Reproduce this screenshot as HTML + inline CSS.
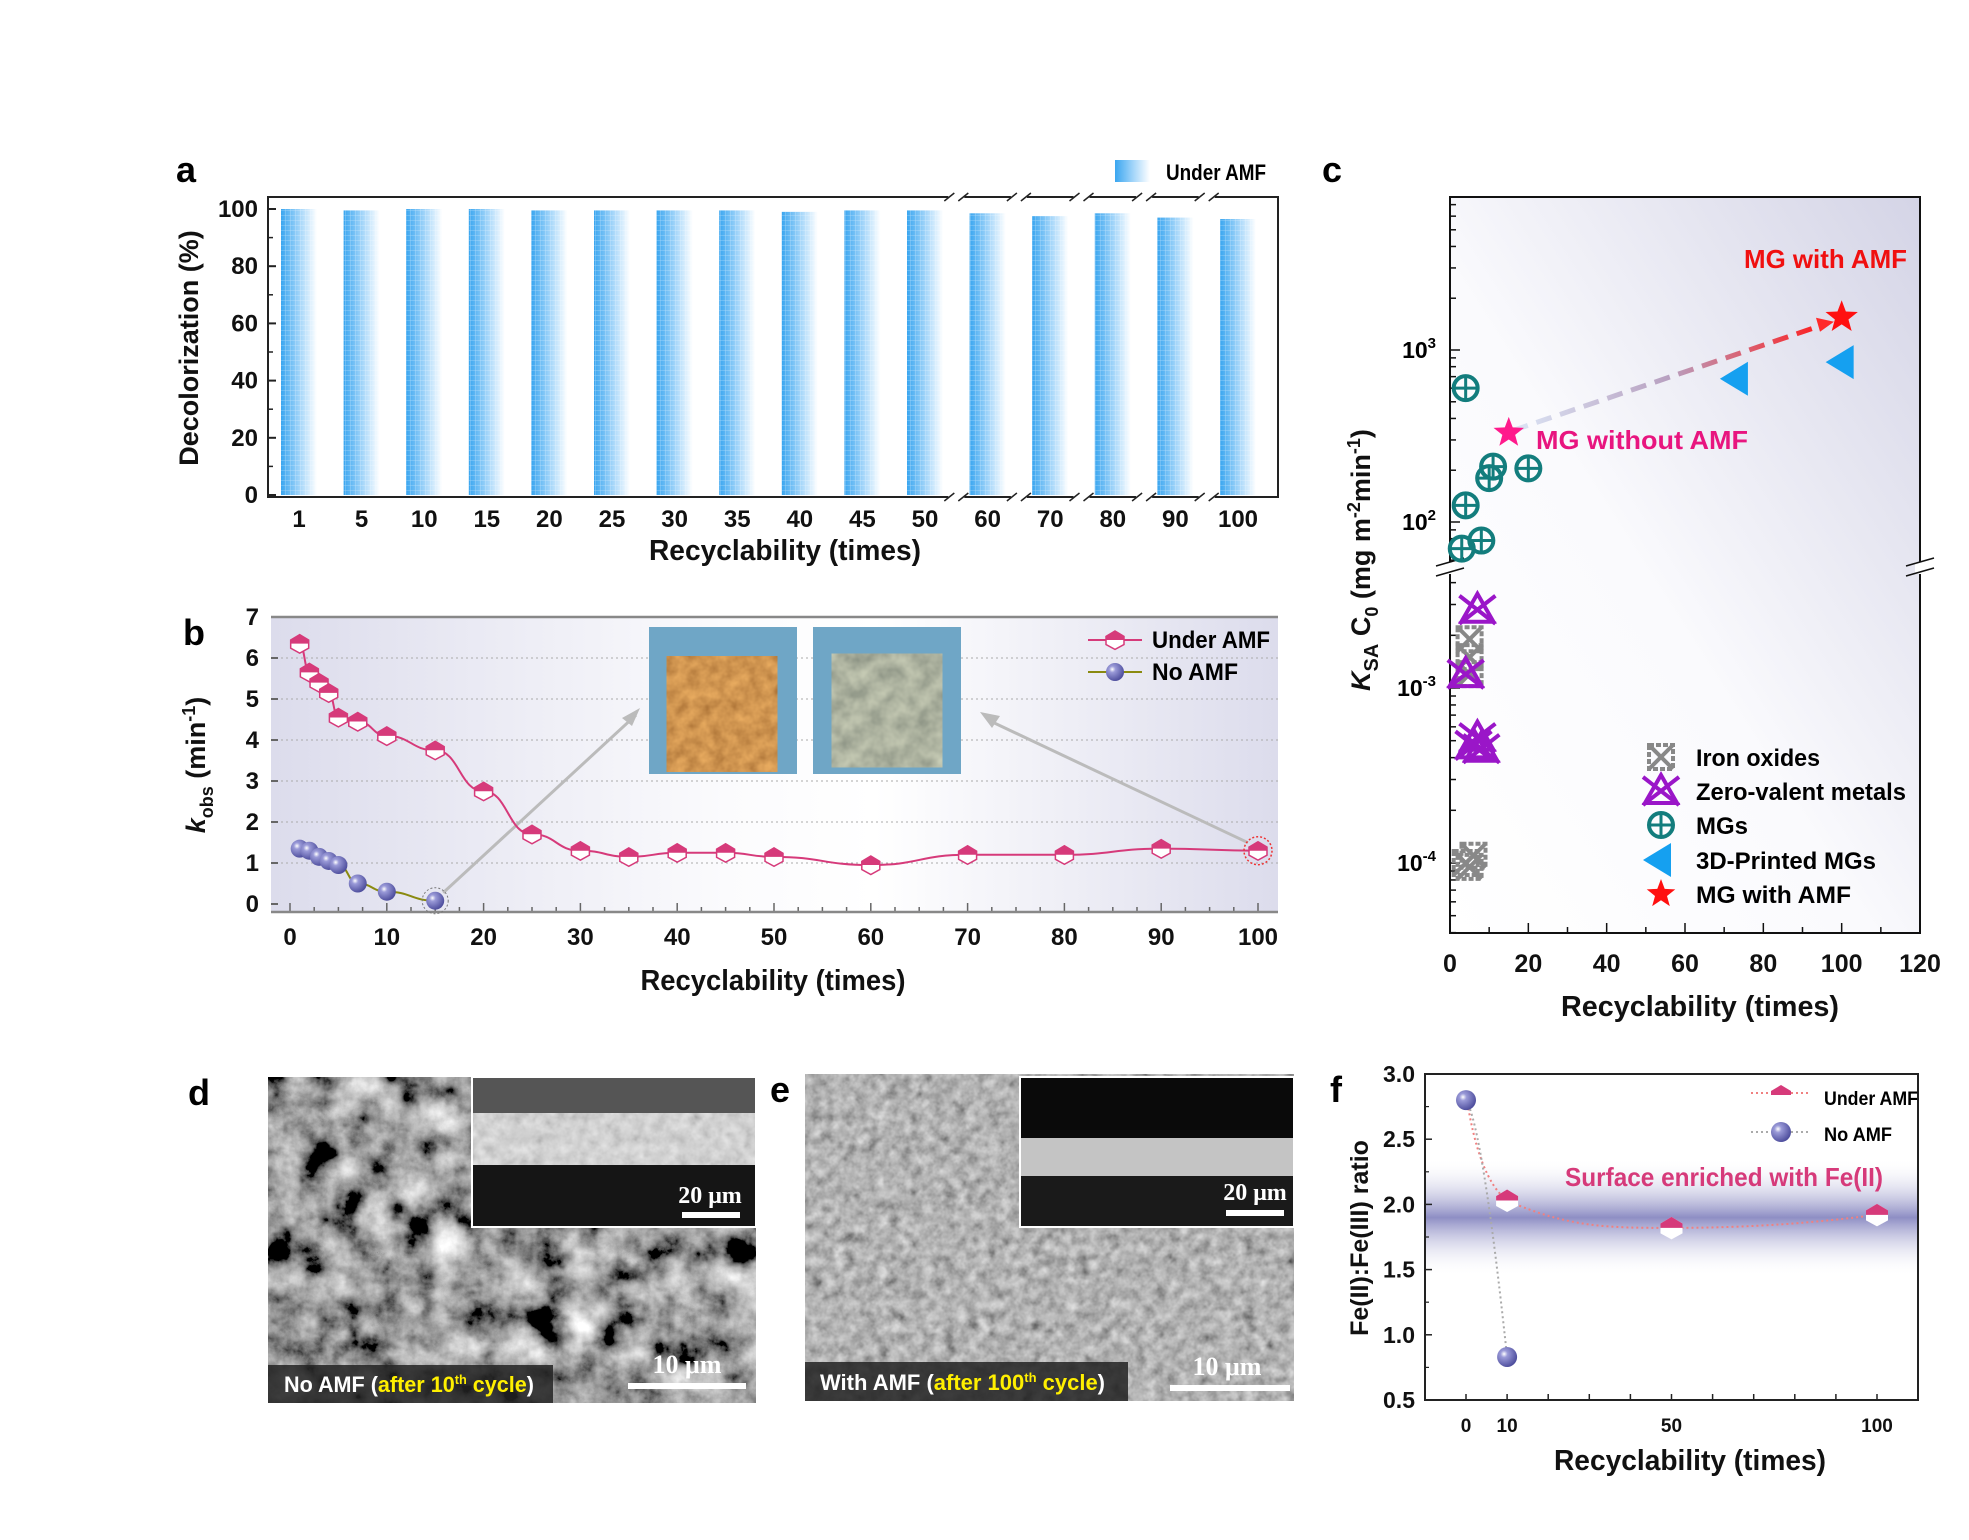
<!DOCTYPE html>
<html><head><meta charset="utf-8">
<style>
html,body{margin:0;padding:0;background:#fff;}
svg{display:block;font-family:"Liberation Sans Narrow","Liberation Sans",sans-serif;font-weight:bold;}
.tk{font-size:24px;fill:#111;}
.ttl{font-size:29px;fill:#111;}
.pl{font-size:36px;fill:#000;font-family:"Liberation Sans",sans-serif;font-weight:bold;}
</style></head>
<body>
<svg id="fig" width="1969" height="1540" viewBox="0 0 1969 1540" xmlns="http://www.w3.org/2000/svg">
<defs>
<linearGradient id="barG" x1="0" x2="1" y1="0" y2="0"><stop offset="0" stop-color="#3aa6f0"/><stop offset="0.55" stop-color="#a9d8fa"/><stop offset="1" stop-color="#ffffff"/></linearGradient>
<pattern id="barGrid" width="5" height="5" patternUnits="userSpaceOnUse"><path d="M0 0H5M0 0V5" stroke="#fff" stroke-width="0.8" opacity="0.5"/></pattern>
<linearGradient id="bgB" x1="0" x2="1"><stop offset="0" stop-color="#dcdcec"/><stop offset="0.45" stop-color="#fbfbfd"/><stop offset="0.6" stop-color="#ffffff"/><stop offset="1" stop-color="#dcdcec"/></linearGradient>
<linearGradient id="bgC" x1="0" x2="1" y1="1" y2="0"><stop offset="0" stop-color="#ffffff"/><stop offset="0.45" stop-color="#fafafd"/><stop offset="1" stop-color="#d4d4e6"/></linearGradient>
<linearGradient id="bandF" x1="0" x2="0" y1="0" y2="1"><stop offset="0" stop-color="#fff" stop-opacity="0"/><stop offset="0.5" stop-color="#8e8ec4"/><stop offset="1" stop-color="#fff" stop-opacity="0"/></linearGradient>
<linearGradient id="arrG" x1="0" x2="1"><stop offset="0" stop-color="#dce6f6"/><stop offset="0.5" stop-color="#b8a0c0"/><stop offset="1" stop-color="#ff1a1a"/></linearGradient>
<radialGradient id="ball" cx="0.35" cy="0.35" r="0.7"><stop offset="0" stop-color="#ffffff"/><stop offset="0.25" stop-color="#9a9ad8"/><stop offset="1" stop-color="#4a4a9a"/></radialGradient>
<filter id="semD" x="0" y="0" width="1" height="1"><feTurbulence type="fractalNoise" baseFrequency="0.03" numOctaves="5" seed="3"/><feColorMatrix type="matrix" values="0.33 0.33 0.33 0 0  0.33 0.33 0.33 0 0  0.33 0.33 0.33 0 0  0 0 0 0 1"/><feComponentTransfer><feFuncR type="linear" slope="2.6" intercept="-0.95"/><feFuncG type="linear" slope="2.6" intercept="-0.95"/><feFuncB type="linear" slope="2.6" intercept="-0.95"/></feComponentTransfer></filter>
<filter id="semE" x="0" y="0" width="1" height="1"><feTurbulence type="fractalNoise" baseFrequency="0.09" numOctaves="3" seed="7"/><feColorMatrix type="matrix" values="0.33 0.33 0.33 0 0  0.33 0.33 0.33 0 0  0.33 0.33 0.33 0 0  0 0 0 0 1"/><feComponentTransfer><feFuncR type="linear" slope="1.2" intercept="-0.15"/><feFuncG type="linear" slope="1.2" intercept="-0.15"/><feFuncB type="linear" slope="1.2" intercept="-0.15"/></feComponentTransfer></filter>
<filter id="rust"><feTurbulence type="fractalNoise" baseFrequency="0.08" numOctaves="3" seed="2"/><feColorMatrix type="matrix" values="0.5 0 0 0 0.38  0.3 0 0 0 0.15  0.1 0 0 0 0.03  0 0 0 0 1"/></filter>
<filter id="steel"><feTurbulence type="fractalNoise" baseFrequency="0.06" numOctaves="3" seed="5"/><feColorMatrix type="matrix" values="0.4 0 0 0 0.22  0.4 0 0 0 0.25  0.3 0 0 0 0.2  0 0 0 0 1"/></filter>
</defs>

<!-- Panel a -->
<text class="pl" x="176" y="182">a</text>
<g>
<rect x="1115" y="160" width="35" height="22" fill="url(#barG)"/>
<text x="1166" y="180" style="font-size:22px" textLength="100" lengthAdjust="spacingAndGlyphs">Under AMF</text>
</g>
<g id="pa"></g>
<text class="ttl" x="785" y="560" text-anchor="middle" textLength="272" lengthAdjust="spacingAndGlyphs">Recyclability (times)</text>
<text class="ttl" transform="translate(198,348) rotate(-90)" text-anchor="middle" style="font-family:'Liberation Sans',sans-serif;font-size:27px">Decolorization (%)</text>

<!-- Panel b -->
<text class="pl" x="183" y="645">b</text>
<g id="pb"></g>
<text class="ttl" x="773" y="990" text-anchor="middle" textLength="265" lengthAdjust="spacingAndGlyphs">Recyclability (times)</text>
<text class="ttl" transform="translate(205,765) rotate(-90)" text-anchor="middle" style="font-family:'Liberation Sans',sans-serif;font-size:27px"><tspan font-style="italic">k</tspan><tspan font-size="18" dy="8">obs</tspan><tspan dy="-8"> (min</tspan><tspan font-size="18" dy="-10">-1</tspan><tspan dy="10">)</tspan></text>

<!-- Panel c -->
<text class="pl" x="1322" y="182">c</text>
<g id="pc"></g>
<text class="ttl" x="1700" y="1016" text-anchor="middle" textLength="278" lengthAdjust="spacingAndGlyphs">Recyclability (times)</text>
<text class="ttl" transform="translate(1370,560) rotate(-90)" text-anchor="middle" style="font-family:'Liberation Sans',sans-serif;font-size:27px"><tspan font-style="italic">K</tspan><tspan font-size="20" dy="8">SA</tspan><tspan dy="-8"> C</tspan><tspan font-size="18" dy="8">0</tspan><tspan dy="-8"> (mg m</tspan><tspan font-size="18" dy="-10">-2</tspan><tspan dy="10">min</tspan><tspan font-size="18" dy="-10">-1</tspan><tspan dy="10">)</tspan></text>

<!-- Panel d -->
<text class="pl" x="188" y="1105">d</text>
<g>
<rect x="268" y="1077" width="488" height="326" fill="#666" filter="url(#semD)"/>
<rect x="472" y="1077" width="284" height="150" fill="#151515" stroke="#fff" stroke-width="2"/>
<rect x="473" y="1078" width="282" height="35" fill="#555"/>
<rect x="473" y="1113" width="282" height="52" fill="#ececec"/>
<rect x="473" y="1113" width="282" height="52" fill="#aaa" filter="url(#semE)" opacity="0.45"/>
<text x="710" y="1203" text-anchor="middle" style="font-family:'Liberation Serif',serif;font-size:24px;fill:#fff">20 μm</text>
<rect x="682" y="1212" width="58" height="6" fill="#fff"/>
<rect x="268" y="1365" width="285" height="38" fill="#222" opacity="0.85"/>
<text x="284" y="1392" style="font-size:22px;fill:#fff" textLength="250" lengthAdjust="spacingAndGlyphs">No AMF (<tspan fill="#ffef00">after 10<tspan font-size="13" dy="-8">th</tspan><tspan dy="8"> cycle</tspan></tspan>)</text>
<text x="687" y="1373" text-anchor="middle" style="font-family:'Liberation Serif',serif;font-size:26px;fill:#fff">10 μm</text>
<rect x="628" y="1383" width="118" height="6" fill="#fff"/>
</g>

<!-- Panel e -->
<text class="pl" x="770" y="1102">e</text>
<g>
<rect x="805" y="1074" width="489" height="327" fill="#888" filter="url(#semE)"/>
<rect x="1020" y="1077" width="274" height="150" fill="#1a1a1a" stroke="#fff" stroke-width="2"/>
<rect x="1021" y="1078" width="272" height="60" fill="#0a0a0a"/>
<rect x="1021" y="1138" width="272" height="38" fill="#c4c4c4"/>
<text x="1255" y="1200" text-anchor="middle" style="font-family:'Liberation Serif',serif;font-size:24px;fill:#fff">20 μm</text>
<rect x="1226" y="1210" width="58" height="6" fill="#fff"/>
<rect x="805" y="1362" width="323" height="39" fill="#222" opacity="0.85"/>
<text x="820" y="1390" style="font-size:22px;fill:#fff" textLength="285" lengthAdjust="spacingAndGlyphs">With AMF (<tspan fill="#ffef00">after 100<tspan font-size="13" dy="-8">th</tspan><tspan dy="8"> cycle</tspan></tspan>)</text>
<text x="1227" y="1375" text-anchor="middle" style="font-family:'Liberation Serif',serif;font-size:26px;fill:#fff">10 μm</text>
<rect x="1170" y="1385" width="120" height="6" fill="#fff"/>
</g>

<!-- Panel f -->
<text class="pl" x="1330" y="1102">f</text>
<g id="pf"></g>
<text class="ttl" x="1690" y="1470" text-anchor="middle" textLength="272" lengthAdjust="spacingAndGlyphs">Recyclability (times)</text>
<text class="ttl" transform="translate(1368,1238) rotate(-90)" text-anchor="middle" style="font-family:'Liberation Sans',sans-serif;font-size:25px">Fe(II):Fe(III) ratio</text>
</svg>

<script>
// ---------- Panel a data ----------
const aCats = ["1","5","10","15","20","25","30","35","40","45","50","60","70","80","90","100"];
const aVals = [100,99.5,100,100,99.5,99.5,99.5,99.5,99,99.5,99.5,98.5,97.5,98.5,97,96.5];
const aTicks = [0,20,40,60,80,100];
// ---------- Panel b data ----------
const bUnderX = [1,2,3,4,5,7,10,15,20,25,30,35,40,45,50,60,70,80,90,100];
const bUnderY = [6.35,5.65,5.4,5.15,4.55,4.45,4.1,3.75,2.75,1.7,1.3,1.15,1.25,1.25,1.15,0.95,1.2,1.2,1.35,1.3];
const bNoX = [1,2,3,4,5,7,10,15];
const bNoY = [1.35,1.3,1.15,1.05,0.95,0.5,0.3,0.08];
const bYTicks = [0,1,2,3,4,5,6,7];
const bXTicks = [0,10,20,30,40,50,60,70,80,90,100];
// ---------- Panel c data ----------
const cXTicks = [0,20,40,60,80,100,120];
const cMGsX = [4,4,3,8,10,11,20];
const cMGsY = [600,125,70,78,180,210,205];
const cIronX = [5,5,5,4,6,5];
const cIronY = [0.0019,0.0015,0.0012,0.0001,0.00011,0.000095];
const cZeroX = [7,4,7,8,6];
const cZeroY = [0.0028,0.0012,0.00052,0.00045,0.00047];
const c3DX = [73,100];
const c3DY = [680,850];
const cNoAmfX = [15];
const cNoAmfY = [330];
const cAmfX = [100];
const cAmfY = [1550];
// ---------- Panel f data ----------
const fUnderX = [10,50,100];
const fUnderY = [2.03,1.82,1.92];
const fNoX = [0,10];
const fNoY = [2.8,0.83];
const fYTicks = [0.5,1.0,1.5,2.0,2.5,3.0];
const fXTicks = [0,10,50,100];

const NS="http://www.w3.org/2000/svg";
function mk(parent,tag,attrs,txt){const e=document.createElementNS(NS,tag);for(const k in attrs)e.setAttribute(k,attrs[k]);if(txt!==undefined)e.textContent=txt;parent.appendChild(e);return e;}

// ===== Panel a =====
(function(){
const g=document.getElementById('pa');
const L=268,R=1278,T=197,B=497;
const y=v=>495-(v/100)*286;
const x=i=>299+i*(1238-299)/15;
const frame=mk(g,'rect',{x:L,y:T,width:R-L,height:B-T,fill:'#fff',stroke:'#222','stroke-width':2});


aVals.forEach((v,i)=>{
 const r=mk(g,'rect',{x:x(i)-18,y:y(v),width:36,height:495-y(v),fill:'url(#barG)'});
 
 
 mk(g,'rect',{x:x(i)-18,y:y(v),width:36,height:495-y(v),fill:'url(#barGrid)'});
 const t=mk(g,'text',{x:x(i),y:527,'text-anchor':'middle',class:'tk'},aCats[i]);
 
 
});
aTicks.forEach(v=>{
 mk(g,'line',{x1:L,x2:L+8,y1:y(v),y2:y(v),stroke:'#222','stroke-width':2});
 if(v<100) mk(g,'line',{x1:L,x2:L+5,y1:y(v+10),y2:y(v+10),stroke:'#222','stroke-width':1.5});
 const t=mk(g,'text',{x:L-10,y:y(v)+8,'text-anchor':'end',class:'tk'},v);
 
 
});
for(let i=10;i<15;i++){const bx=(x(i)+x(i+1))/2;
 [T,B].forEach(yy=>{mk(g,'rect',{x:bx-8,y:yy-4,width:16,height:8,fill:'#fff'});
 mk(g,'line',{x1:bx-12,x2:bx-2,y1:yy+4,y2:yy-4,stroke:'#222','stroke-width':1.5});
 mk(g,'line',{x1:bx+2,x2:bx+12,y1:yy+4,y2:yy-4,stroke:'#222','stroke-width':1.5});});}
})();

// ===== Panel b =====
(function(){
const g=document.getElementById('pb');
const L=271,R=1278,T=617,B=912;
const x=v=>290+v*(1258-290)/100;
const y=v=>904-v*(904-617)/7;
const bg=mk(g,'rect',{x:L,y:T,width:R-L,height:B-T,fill:'url(#bgB)'});


bYTicks.forEach(v=>{
 if(v>0&&v<7) mk(g,'line',{x1:L,x2:R,y1:y(v),y2:y(v),stroke:'#aaa','stroke-dasharray':'2 3','stroke-width':1});
 mk(g,'line',{x1:L,x2:L+7,y1:y(v),y2:y(v),stroke:'#666','stroke-width':2});
 const t=mk(g,'text',{x:L-12,y:y(v)+8,'text-anchor':'end',class:'tk'},v);
 
 
});
for(let v=0;v<=100;v+=2.5){mk(g,'line',{x1:x(v),x2:x(v),y1:B,y2:B-(v%10==0?9:5),stroke:'#666','stroke-width':1.5});}
bXTicks.forEach(v=>{const t=mk(g,'text',{x:x(v),y:945,'text-anchor':'middle',class:'tk'},v);
 
 });
mk(g,'line',{x1:L,x2:R,y1:T,y2:T,stroke:'#888','stroke-width':2.5});
mk(g,'line',{x1:L,x2:R,y1:B,y2:B,stroke:'#888','stroke-width':2.5});
const i1=mk(g,'rect',{x:649,y:627,width:148,height:147,fill:'#6fa6c6'});


mk(g,'rect',{x:676,y:666,width:92,height:96,fill:'#a05a20',filter:'url(#rust)'});
const i2=mk(g,'rect',{x:813,y:627,width:148,height:147,fill:'#6fa6c6'});


mk(g,'rect',{x:841,y:663,width:92,height:95,fill:'#6d725f',filter:'url(#steel)'});
mk(g,'line',{x1:x(15)+8,y1:y(0.08)-8,x2:636,y2:715,stroke:'#bbb','stroke-width':3});
mk(g,'path',{d:'M640 708 L622 718 L632 726 Z',fill:'#bbb'});
mk(g,'line',{x1:x(100)-10,y1:y(1.3)-8,x2:988,y2:720,stroke:'#bbb','stroke-width':3});
mk(g,'path',{d:'M980 712 L1000 716 L992 728 Z',fill:'#bbb'});
function smooth(xs,ys){let d='M'+x(xs[0])+' '+y(ys[0]);for(let i=1;i<xs.length;i++){const x0=x(xs[i-1]),y0=y(ys[i-1]),x1=x(xs[i]),y1=y(ys[i]);const mx=(x0+x1)/2;d+=' C'+mx+' '+y0+' '+mx+' '+y1+' '+x1+' '+y1;}return d;}
const lu=mk(g,'path',{d:smooth(bUnderX,bUnderY),fill:'none',stroke:'#d63a7a','stroke-width':2});


const ln=mk(g,'path',{d:smooth(bNoX,bNoY),fill:'none',stroke:'#8a8a10','stroke-width':2});


function hexMark(px,py,s){mk(g,'path',{d:`M${px-s} ${py-s*0.4} L${px} ${py-s} L${px+s} ${py-s*0.4} L${px+s} ${py+s*0.5} L${px} ${py+s*1.05} L${px-s} ${py+s*0.5}Z`,fill:'#fff',stroke:'#d63a7a','stroke-width':1.5});
 return mk(g,'path',{d:`M${px-s} ${py} L${px-s} ${py-s*0.4} L${px} ${py-s} L${px+s} ${py-s*0.4} L${px+s} ${py}Z`,fill:'#d63a7a'});}
bUnderX.forEach((v,i)=>{const m=hexMark(x(v),y(bUnderY[i]),9);
 
 });
bNoX.forEach((v,i)=>{const m=mk(g,'circle',{cx:x(v),cy:y(bNoY[i]),r:9,fill:'url(#ball)'});
 
 });
mk(g,'circle',{cx:x(15),cy:y(0.08),r:13,fill:'none',stroke:'#777','stroke-dasharray':'2 2'});
mk(g,'circle',{cx:x(100),cy:y(1.3),r:14,fill:'none',stroke:'#e33','stroke-dasharray':'2 2','stroke-width':1.5});
mk(g,'line',{x1:1088,x2:1142,y1:640,y2:640,stroke:'#d63a7a','stroke-width':2});
hexMark(1115,640,9);
const lt1=mk(g,'text',{x:1152,y:648,style:'font-size:24px',textLength:118,lengthAdjust:'spacingAndGlyphs'},'Under AMF');


mk(g,'line',{x1:1088,x2:1142,y1:672,y2:672,stroke:'#8a8a10','stroke-width':2});
mk(g,'circle',{cx:1115,cy:672,r:9,fill:'url(#ball)'});
const lt2=mk(g,'text',{x:1152,y:680,style:'font-size:24px',textLength:86,lengthAdjust:'spacingAndGlyphs'},'No AMF');


})();

// ===== Panel c =====
(function(){
const g=document.getElementById('pc');
const L=1450,R=1920,T=197,B=933,BR=568;
const x=v=>L+v*(R-L)/120;
const yu=v=>350-(Math.log10(v)-3)*172;
const yl=v=>688-(Math.log10(v)+3)*175;
const bg=mk(g,'rect',{x:L,y:T,width:R-L,height:B-T,fill:'url(#bgC)',stroke:'#111','stroke-width':2});


for(let e=1;e<=3;e++)for(let m=1;m<10;m++){const v=m*Math.pow(10,e);const yy=yu(v);if(yy>T&&yy<BR)mk(g,'line',{x1:L,x2:L+(m==1?10:6),y1:yy,y2:yy,stroke:'#111','stroke-width':1.5});}
for(let e=-5;e<=-3;e++)for(let m=1;m<10;m++){const v=m*Math.pow(10,e);const yy=yl(v);if(yy>BR&&yy<B)mk(g,'line',{x1:L,x2:L+(m==1?10:6),y1:yy,y2:yy,stroke:'#111','stroke-width':1.5});}
[[yu(1000),'3'],[yu(100),'2'],[yl(0.001),'-3'],[yl(0.0001),'-4']].forEach(a=>{
 const t=mk(g,'text',{x:L-14,y:a[0]+8,'text-anchor':'end',style:'font-family:"Liberation Sans",sans-serif;font-size:23px'});
 
 
 mk(t,'tspan',{},'10');mk(t,'tspan',{dy:-10,'font-size':15},a[1]);});
[L,R].forEach(bx=>{mk(g,'rect',{x:bx-5,y:BR-6,width:10,height:12,fill:'#fff'});
 mk(g,'line',{x1:bx-14,x2:bx+14,y1:BR-2,y2:BR-10,stroke:'#111','stroke-width':1.5});
 mk(g,'line',{x1:bx-14,x2:bx+14,y1:BR+8,y2:BR,stroke:'#111','stroke-width':1.5});});
for(let v=0;v<=120;v+=10){mk(g,'line',{x1:x(v),x2:x(v),y1:B,y2:B-(v%20==0?10:6),stroke:'#111','stroke-width':1.5});}
cXTicks.forEach(v=>{const t=mk(g,'text',{x:x(v),y:972,'text-anchor':'middle',class:'tk',style:'font-size:25px'},v);
 
 });
mk(g,'line',{x1:x(16),y1:yu(340),x2:x(96),y2:yu(1420),stroke:'url(#arrG)','stroke-width':5,'stroke-dasharray':'16 9'});
mk(g,'path',{d:`M${x(96)+8} ${yu(1420)-2} l-18 -4 l4 14 Z`,fill:'#ff2a2a'});
function circ(px,py){const gg=mk(g,'g',{});mk(gg,'circle',{cx:px,cy:py,r:12,fill:'none',stroke:'#137d7d','stroke-width':4});mk(gg,'path',{d:`M${px-12} ${py}H${px+12}M${px} ${py-12}V${py+12}`,stroke:'#137d7d','stroke-width':3});return gg;}
function boxX(px,py){const gg=mk(g,'g',{});mk(gg,'rect',{x:px-12,y:py-12,width:24,height:24,fill:'none',stroke:'#888','stroke-width':4,'stroke-dasharray':'5 2'});mk(gg,'path',{d:`M${px-12} ${py-12}L${px+12} ${py+12}M${px+12} ${py-12}L${px-12} ${py+12}`,stroke:'#888','stroke-width':4});return gg;}
function zx(px,py){const gg=mk(g,'g',{});mk(gg,'path',{d:`M${px-18} ${py-14}L${px+18} ${py+14}M${px+18} ${py-14}L${px-18} ${py+14}M${px-16} ${py+12}L${px} ${py-16}L${px+16} ${py+12}Z`,fill:'none',stroke:'#9a16c8','stroke-width':4});return gg;}
function tri(px,py){return mk(g,'path',{d:`M${px-16} ${py}L${px+12} ${py-17}L${px+12} ${py+17}Z`,fill:'#15a0f0'});}
function star(px,py,r,col){let d='';for(let i=0;i<10;i++){const a=-Math.PI/2+i*Math.PI/5;const rr=i%2?r*0.42:r;d+=(i?'L':'M')+(px+rr*Math.cos(a))+' '+(py+rr*Math.sin(a));}return mk(g,'path',{d:d+'Z',fill:col});}
cIronX.forEach((v,i)=>{const m=boxX(x(v),yl(cIronY[i]));
 
 });
cZeroX.forEach((v,i)=>{const m=zx(x(v),yl(cZeroY[i]));
 
 });
cMGsX.forEach((v,i)=>{const yy=yu(cMGsY[i]);if(yy>BR-4)return;const m=circ(x(v),yy);
 
 });
c3DX.forEach((v,i)=>{const m=tri(x(v),yu(c3DY[i]));
 
 });
cNoAmfX.forEach((v,i)=>{const m=star(x(v),yu(cNoAmfY[i]),16,'#ff1a8c');
 
 });
cAmfX.forEach((v,i)=>{const m=star(x(v),yu(cAmfY[i]),17,'#ff1010');
 
 });
const a1=mk(g,'text',{x:1907,y:268,'text-anchor':'end',style:'font-size:26px;fill:#f01010',textLength:163,lengthAdjust:'spacingAndGlyphs'},'MG with AMF');


const a2=mk(g,'text',{x:1536,y:449,style:'font-size:26px;fill:#e8157f',textLength:212,lengthAdjust:'spacingAndGlyphs'},'MG without AMF');


const ly=[757,791,825,860,894];
const labs=['Iron oxides','Zero-valent metals','MGs','3D-Printed MGs','MG with AMF'];
const lw=[124,210,52,180,155];
boxX(1661,ly[0]);zx(1661,ly[1]);circ(1661,ly[2]);tri(1659,ly[3]);star(1661,ly[4],15,'#ff1010');
labs.forEach((s,i)=>{const t=mk(g,'text',{x:1696,y:ly[i]+9,style:'font-size:24px',textLength:lw[i],lengthAdjust:'spacingAndGlyphs'},s);
 
 });
})();

// ===== Panel f =====
(function(){
const g=document.getElementById('pf');
const L=1425,R=1918,T=1074,B=1400;
const x=v=>1466+v*(1877-1466)/100;
const y=v=>1400-(v-0.5)*(1400-1074)/2.5;
const bg=mk(g,'rect',{x:L,y:T,width:R-L,height:B-T,fill:'#fff',stroke:'#222','stroke-width':2});


const band=mk(g,'rect',{x:L+1,y:y(2.35),width:R-L-2,height:y(1.45)-y(2.35),fill:'url(#bandF)'});


fYTicks.forEach(v=>{mk(g,'line',{x1:L,x2:L+7,y1:y(v),y2:y(v),stroke:'#222','stroke-width':1.5});
 if(v<3)mk(g,'line',{x1:L,x2:L+4,y1:y(v+0.25),y2:y(v+0.25),stroke:'#222','stroke-width':1.2});
 const t=mk(g,'text',{x:L-10,y:y(v)+8,'text-anchor':'end',class:'tk',style:'font-size:23px'},v.toFixed(1));
 
 });
for(let v=0;v<=110;v+=10){mk(g,'line',{x1:x(v),x2:x(v),y1:B,y2:B-6,stroke:'#222','stroke-width':1.5});}
fXTicks.forEach(v=>{const t=mk(g,'text',{x:x(v),y:1432,'text-anchor':'middle',class:'tk',style:'font-size:19px'},v);
 
 });
const at=mk(g,'text',{x:1724,y:1186,'text-anchor':'middle',style:'font-size:26px;fill:#d63a7a',textLength:318,lengthAdjust:'spacingAndGlyphs'},'Surface enriched with Fe(II)');


const pu=mk(g,'path',{d:`M${x(0)} ${y(2.85)} Q${x(3)} ${y(2.2)} ${x(fUnderX[0])} ${y(fUnderY[0])} C${x(25)} ${y(1.82)} ${x(35)} ${y(fUnderY[1])} ${x(fUnderX[1])} ${y(fUnderY[1])} C${x(70)} ${y(fUnderY[1])} ${x(85)} ${y(1.86)} ${x(fUnderX[2])} ${y(fUnderY[2])}`,fill:'none',stroke:'#f08080','stroke-width':2,'stroke-dasharray':'2 3'});


const pn=mk(g,'path',{d:`M${x(fNoX[0])} ${y(fNoY[0])} Q${x(4)} ${y(2.6)} ${x(fNoX[1])} ${y(fNoY[1])}`,fill:'none',stroke:'#aaa','stroke-width':2,'stroke-dasharray':'2 3'});


function hexMark(px,py,s){mk(g,'path',{d:`M${px-s} ${py-s*0.4} L${px} ${py-s} L${px+s} ${py-s*0.4} L${px+s} ${py+s*0.5} L${px} ${py+s*1.05} L${px-s} ${py+s*0.5}Z`,fill:'#fff'});
 return mk(g,'path',{d:`M${px-s} ${py} L${px-s} ${py-s*0.4} L${px} ${py-s} L${px+s} ${py-s*0.4} L${px+s} ${py}Z`,fill:'#d63a7a'});}
fUnderX.forEach((v,i)=>{const m=hexMark(x(v),y(fUnderY[i]),11);
 
 });
fNoX.forEach((v,i)=>{const m=mk(g,'circle',{cx:x(v),cy:y(fNoY[i]),r:10,fill:'url(#ball)'});
 
 });
mk(g,'line',{x1:1751,x2:1810,y1:1093,y2:1093,stroke:'#f08080','stroke-width':2,'stroke-dasharray':'2 3'});
hexMark(1781,1095,10);
const l1=mk(g,'text',{x:1824,y:1105,style:'font-size:19px',textLength:94,lengthAdjust:'spacingAndGlyphs'},'Under AMF');


mk(g,'line',{x1:1751,x2:1810,y1:1132,y2:1132,stroke:'#aaa','stroke-width':2,'stroke-dasharray':'2 3'});
mk(g,'circle',{cx:1781,cy:1132,r:10,fill:'url(#ball)'});
const l2=mk(g,'text',{x:1824,y:1141,style:'font-size:19px',textLength:68,lengthAdjust:'spacingAndGlyphs'},'No AMF');


})();
</script>
</body></html>
